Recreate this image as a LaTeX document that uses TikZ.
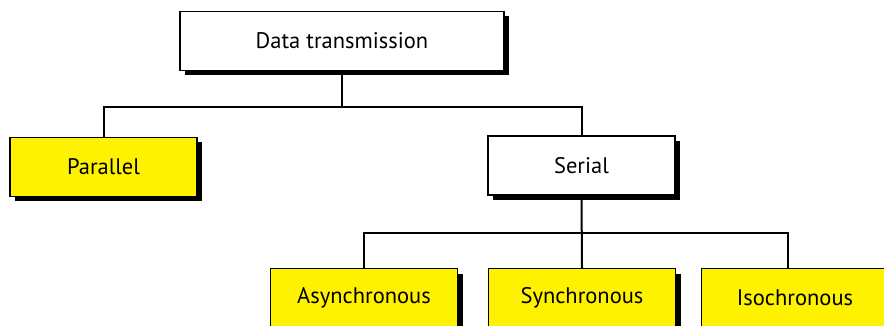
\documentclass[tikz,border=0pt]{standalone}
\usepackage{fontspec}
\setmainfont{PT Sans}
\usetikzlibrary{shadows,positioning}

\begin{document}
\begin{tikzpicture}[x=1pt, y=-1pt,
		treenode/.style = {align=center, inner sep=0pt, text centered, font=\fontsize{22.5}{26}\selectfont, draw=black, line width=1.2pt, minimum height=59pt, drop shadow={shadow xshift=5pt, shadow yshift=-5pt, fill=black, opacity=1}},
		plain/.style = {treenode, fill=white, minimum width=187pt},
		leaf/.style = {treenode, fill=yellow, minimum width=187pt},
		link/.style = {line width=2pt, black}]
	\useasboundingbox (0,0) rectangle (884,326);
	\clip (0,0) rectangle (884,326);
	% root and first level
	\node [plain, minimum width=324pt] (data) at (342,41) {Data transmission};
	\node [leaf] (parallel) at (103.5,167) {Parallel};
	\node [plain] (serial) at (581.5,165.5) {Serial};
	% second level
	\node [leaf] (async) at (364,298) {Asynchronous};
	\node [leaf] (sync) at (582,298) {Synchronous};
	\node [leaf] (iso) at (795,298) {Isochronous};
	% connectors
	\coordinate (forktop) at (342,107);
	\coordinate (forkbot) at (581.5,233);
	\draw [link] (data.south) -- (forktop);
	\draw [link] (parallel.north) |- (forktop) -| (serial.north);
	\draw [link] (serial.south) -- (sync.north);
	\draw [link] (async.north) |- (forkbot) -| ([xshift=-7pt]iso.north);
\end{tikzpicture}
\end{document}
